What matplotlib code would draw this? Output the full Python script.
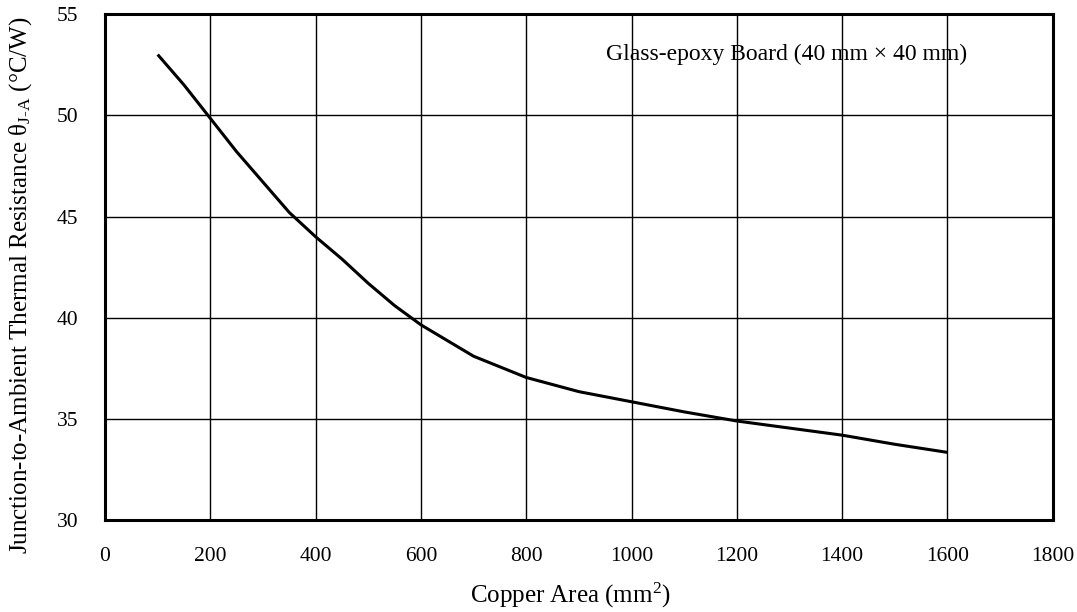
import matplotlib
matplotlib.use("Agg")
import matplotlib.pyplot as plt

plt.rcParams['font.family'] = ['Liberation Serif', 'DejaVu Serif']
plt.rcParams['mathtext.fontset'] = 'custom'
plt.rcParams['mathtext.rm'] = 'Liberation Serif'
plt.rcParams['mathtext.it'] = 'Liberation Serif:italic'

copper_area = [100, 150, 200, 250, 300, 350, 400, 450, 500, 550, 600,
               700, 800, 900, 1000, 1100, 1200, 1300, 1400, 1500, 1600]
theta_ja = [53.0, 51.5, 49.85, 48.2, 46.7, 45.2, 44.0, 42.9, 41.7, 40.6, 39.65,
            38.1, 37.05, 36.35, 35.85, 35.35, 34.9, 34.55, 34.2, 33.75, 33.35]

x_ticks = list(range(0, 1801, 200))
y_ticks = [30, 35, 40, 45, 50, 55]

fig = plt.figure(figsize=(10.77, 6.12), dpi=100)
ax = fig.add_axes([0.0975, 0.150, 0.880, 0.827])

ax.plot(copper_area, theta_ja, color='black', lw=2.2, solid_capstyle='butt')

ax.set_xlim(0, 1800)
ax.set_ylim(30, 55)
ax.set_xticks(x_ticks)
ax.set_yticks(y_ticks)
ax.grid(True, color='black', lw=1.0)
ax.set_axisbelow(True)
ax.tick_params(axis='x', length=0, pad=19, labelsize=15.5)
ax.tick_params(axis='y', length=0, pad=19, labelsize=15.5)
for s in ax.spines.values():
    s.set_linewidth(2.2)

ax.set_xlabel('Copper Area (mm$^{2}$)', fontsize=18)
ax.xaxis.set_label_coords(0.4905, -0.119)
ax.set_ylabel(r'Junction-to-Ambient Thermal Resistance θ$_{\rm J\text{-}A}$ (°C/W)',
              fontsize=18)
ax.yaxis.set_label_coords(-0.075, 0.464)

ax.text(1295, 53, 'Glass-epoxy Board (40 mm × 40 mm)', fontsize=17,
        ha='center', va='center')

fig.savefig('out.png', dpi=100)
